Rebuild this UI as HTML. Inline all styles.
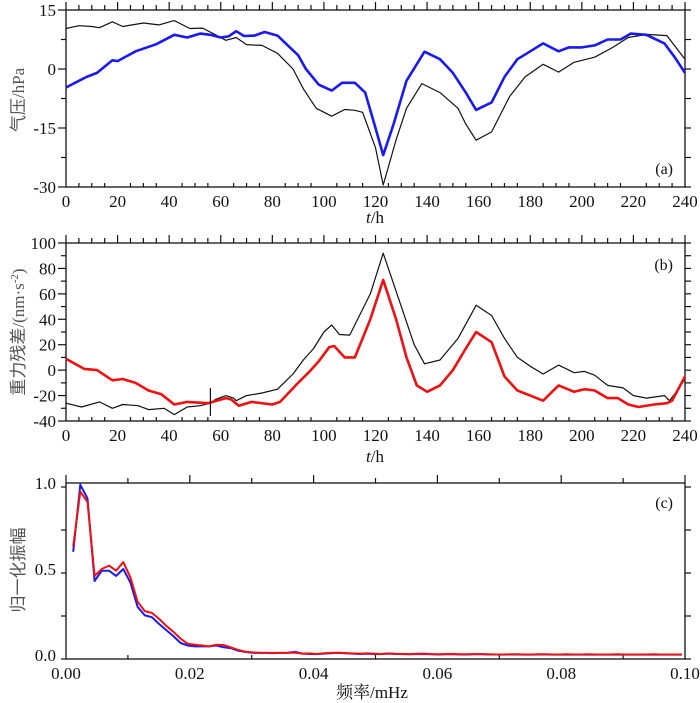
<!DOCTYPE html>
<html><head><meta charset="utf-8"><style>
html,body{margin:0;padding:0;background:#fff;}
svg{display:block;font-family:"Liberation Serif","Noto Serif CJK SC",serif;}
</style></head><body>
<svg id="c" width="700" height="703" viewBox="0 0 700 703" xmlns="http://www.w3.org/2000/svg"></svg>
<script>
// Panel (a) pressure
const aHoursBlack=[0,5,10,13,18,22,30,36,42,48,53,58,62,66,70,76,82,88,92,97,103,108,112,115,120,123,128,132,138,145,152,155,159,165,172,178,185,191,197,205,212,218,225,233,240];
const aBlack=[10.3,11,10.8,10.5,12,10.8,11.7,11.2,12.3,10.3,10.4,8.7,7.3,8,6.2,6,4,0,-5,-10,-12,-10.3,-10.5,-11,-20,-29.5,-18,-10,-3.7,-6,-10,-14,-18.1,-16,-7,-2,1.2,-0.8,1.7,3,5.5,8,8.8,8.5,2.5];
const aHoursBlue=[0,5,8,12,18,20,27,35,42,47,52,56,60,63,66,69,73,77,82,86,90,93,98,103,107,112,116,120,123,127,132,139,145,150,155,159,165,170,175,180,185,191,195,200,205,210,215,219,225,232,236,240];
const aBlue=[-4.7,-3,-2,-1,2.2,2,4.5,6.3,8.7,8,9,8.7,8,8.3,9.6,8.4,8.5,9.4,8.5,6,3.5,0,-4,-5.5,-3.5,-3.5,-6,-15,-21.9,-14,-3,4.4,2.5,-1,-6,-10.4,-8.5,-2,2.5,4.5,6.5,4.5,5.5,5.5,6,7.5,7.5,9,8.7,6.5,3,-1];
// Panel (b) gravity residuals
const bHoursBlack=[0,6,13,18,22,28,32,38,42,47,52,56,58,62,65,66,70,76,82,88,92,96,100,103,106,110,118,123,130,135,139,145,152,159,165,170,175,180,185,191,197,201,205,210,216,220,225,232,234,237,240];
const bBlack=[-26,-29,-25,-30,-27,-28,-31,-30,-35,-29,-28,-26,-23,-20,-22,-24,-20,-18,-15,-3,8,17,30,35.5,28,27.6,60,92,50,20,5,8,25,51,43,25,10,3,-3,4,-2,-1,-4,-12,-14,-20,-22,-20,-24,-16,-7];
const bHoursRed=[0,7,12,18,22,27,32,37,42,47,55,62,64,67,72,80,83,90,94,98,102,104,108,112,118,123,128,132,136,140,145,150,155,159,165,170,175,180,185,191,197,201,205,210,214,218,222,228,233,235,240];
const bRed=[9,1,0,-8,-7,-10,-16,-19,-27,-25,-26,-22,-23,-28,-25,-27,-25,-10,-2,7,18,19,10,10,40,71,40,10,-12,-17,-12,0,17,30,22,-5,-16,-20,-24,-12,-17,-15,-16,-22,-22,-27,-29,-27,-26,-24,-5];
// Panel (c) normalized amplitude spectra (index k: frequency = k * df)
const cDf=0.001157;
const cBlue=[0.60,0.99,0.91,0.43,0.49,0.49,0.46,0.50,0.42,0.28,0.23,0.22,0.18,0.145,0.11,0.07,0.055,0.05,0.05,0.05,0.055,0.045,0.04,0.025,0.018,0.013,0.012,0.012,0.011,0.012,0.013,0.018,0.008,0.006,0.005,0.008,0.01,0.012,0.01,0.008,0.006,0.007,0.006,0.005,0.008,0.006,0.005,0.004,0.005,0.006,0.004,0.003,0.004,0.005,0.003,0.003,0.004,0.004,0.003,0.003,0.002,0.003,0.003,0.002,0.002,0.003,0.003,0.002,0.002,0.003,0.002,0.002,0.003,0.002,0.002,0.002,0.003,0.002,0.002,0.002,0.002,0.003,0.002,0.002,0.002,0.002];
const cRed=[0.63,0.95,0.89,0.46,0.50,0.52,0.49,0.54,0.45,0.31,0.255,0.245,0.21,0.17,0.135,0.095,0.065,0.06,0.055,0.05,0.06,0.058,0.045,0.03,0.02,0.015,0.013,0.012,0.012,0.012,0.012,0.014,0.008,0.009,0.006,0.01,0.012,0.013,0.011,0.009,0.008,0.009,0.008,0.006,0.009,0.007,0.006,0.005,0.007,0.008,0.005,0.004,0.005,0.006,0.004,0.004,0.005,0.005,0.004,0.003,0.003,0.004,0.004,0.003,0.003,0.004,0.004,0.003,0.003,0.004,0.003,0.003,0.004,0.003,0.003,0.003,0.004,0.003,0.003,0.003,0.003,0.004,0.003,0.003,0.003,0.003];

const NS="http://www.w3.org/2000/svg";
const svg=document.getElementById('c');
function mk(tag,attrs,parent){const e=document.createElementNS(NS,tag);for(const k in attrs)e.setAttribute(k,attrs[k]);(parent||svg).appendChild(e);return e;}
function txt(s,x,y,attrs,parent){const e=mk('text',Object.assign({x:x,y:y,'font-size':17,fill:'#111'},attrs||{}),parent);e.textContent=s;return e;}
const L=66,R=685;
function panel(name,top,bot,xmin,xmax,ymin,ymax,xMinorStep,xMajorStep,xLabelFmt,yMinorStep,yMajorStep,yLabels,tag){
  const g=mk('g',{});
  
  
  const sx=v=>L+(v-xmin)/(xmax-xmin)*(R-L);
  const sy=v=>bot-(v-ymin)/(ymax-ymin)*(bot-top);
  const ax=mk('rect',{x:L,y:top,width:R-L,height:bot-top,fill:'none',stroke:'#111','stroke-width':1.3},g);
  
  
  const n=Math.round((xmax-xmin)/xMinorStep);
  for(let i=0;i<=n;i++){const v=xmin+i*xMinorStep;const x=sx(v);
    const major=Math.abs((v/xMajorStep)-Math.round(v/xMajorStep))<1e-6;
    mk('line',{x1:x,x2:x,y1:top,y2:top-(major?8:5),stroke:'#111','stroke-width':1.2},g);
    mk('line',{x1:x,x2:x,y1:bot,y2:bot-(major?0:4),stroke:'#111','stroke-width':1.2},g);
    if(major){const t=txt(xLabelFmt(v),x,bot+20,{'text-anchor':'middle'},g);
      
      }
  }
  const m=Math.round((ymax-ymin)/yMinorStep);
  for(let i=0;i<=m;i++){const v=ymin+i*yMinorStep;const y=sy(v);
    const major=Math.abs((v/yMajorStep)-Math.round(v/yMajorStep))<1e-6;
    mk('line',{x1:L,x2:L-(major?8:5),y1:y,y2:y,stroke:'#111','stroke-width':1.2},g);
    mk('line',{x1:R,x2:R+6,y1:y,y2:y,stroke:'#111','stroke-width':1.2},g);
  }
  yLabels.forEach(v=>{const t=txt(v.label,L-10,sy(v.v)+6,{'text-anchor':'end'},g);
    
    });
  const tg=txt(tag,R-12,top+(tag==='(a)'?0:0),{'text-anchor':'end','font-size':16},g);
  
  
  return {g,sx,sy};
}
function line(p,xs,ys,color,w,name){
  const d=xs.map((x,i)=>(i?'L':'M')+p.sx(x).toFixed(1)+','+p.sy(ys[i]).toFixed(1)).join('');
  const e=mk('path',{d:d,fill:'none',stroke:color,'stroke-width':w,'stroke-linejoin':'round'},p.g);
  
  
}
// Panel a
const pa=panel('panel-a-pressure',10,187,0,240,-30,15,5,20,v=>String(v),7.5,15,[{v:15,label:'15'},{v:0,label:'0'},{v:-15,label:'-15'},{v:-30,label:'-30'}],'(a)');
pa.g.lastChild.setAttribute('y',174);
line(pa,aHoursBlack,aBlack,'#111',1.2,'pressure-black-series');
line(pa,aHoursBlue,aBlue,'#1a1aee',2.6,'pressure-blue-series');
// Panel b
const pb=panel('panel-b-gravity',243,421,0,240,-40,100,5,20,v=>String(v),10,20,[100,80,60,40,20,0,-20,-40].map(v=>({v:v,label:String(v)})),'(b)');
pb.g.lastChild.setAttribute('y',270);
line(pb,bHoursBlack,bBlack,'#111',1.2,'gravity-black-series');
line(pb,bHoursRed,bRed,'#ee1111',2.6,'gravity-red-series');
mk('line',{x1:pb.sx(56),x2:pb.sx(56),y1:pb.sy(-14),y2:pb.sy(-36),stroke:'#111','stroke-width':1.2},pb.g);
// Panel c
const pc=panel('panel-c-spectrum',483,659,0,0.1,-0.0233,1.0,0.01,0.02,v=>v.toFixed(2),0.25,0.5,[{v:1,label:'1.0'},{v:0.5,label:'0.5'},{v:0,label:'0.0'}],'(c)');
pc.g.lastChild.setAttribute('y',508);
const cFreq=cBlue.map((_,i)=>(i+1)*cDf);
line(pc,cFreq,cBlue,'#1a1aee',2,'spectrum-blue-series');
line(pc,cFreq,cRed,'#ee1111',2,'spectrum-red-series');
// Axis titles
function ytitle(s,cx,cy,name){const t=txt(s,0,0,{'text-anchor':'middle','font-size':17,fill:'#555',transform:'translate('+cx+','+cy+') rotate(-90)','font-family':'"Liberation Serif","Noto Sans CJK SC",sans-serif'});
  return t;}
ytitle('气压/hPa',24,100,'y-axis-title-a');
const yb=ytitle('',24,332,'y-axis-title-b');
yb.innerHTML='重力残差/(nm·s<tspan dy="-6" font-size="11">-2</tspan><tspan dy="6">)</tspan>';
ytitle('归一化振幅',24,570,'y-axis-title-c');
function xtitle(html,x,y,name){const t=txt('',x,y,{'text-anchor':'middle','font-size':17});t.innerHTML=html;
  }
xtitle('<tspan font-style="italic">t</tspan>/h',375,223,'x-axis-title-a');
xtitle('<tspan font-style="italic">t</tspan>/h',375,462,'x-axis-title-b');
xtitle('频率/mHz',372,698,'x-axis-title-c');
</script>
</body></html>
